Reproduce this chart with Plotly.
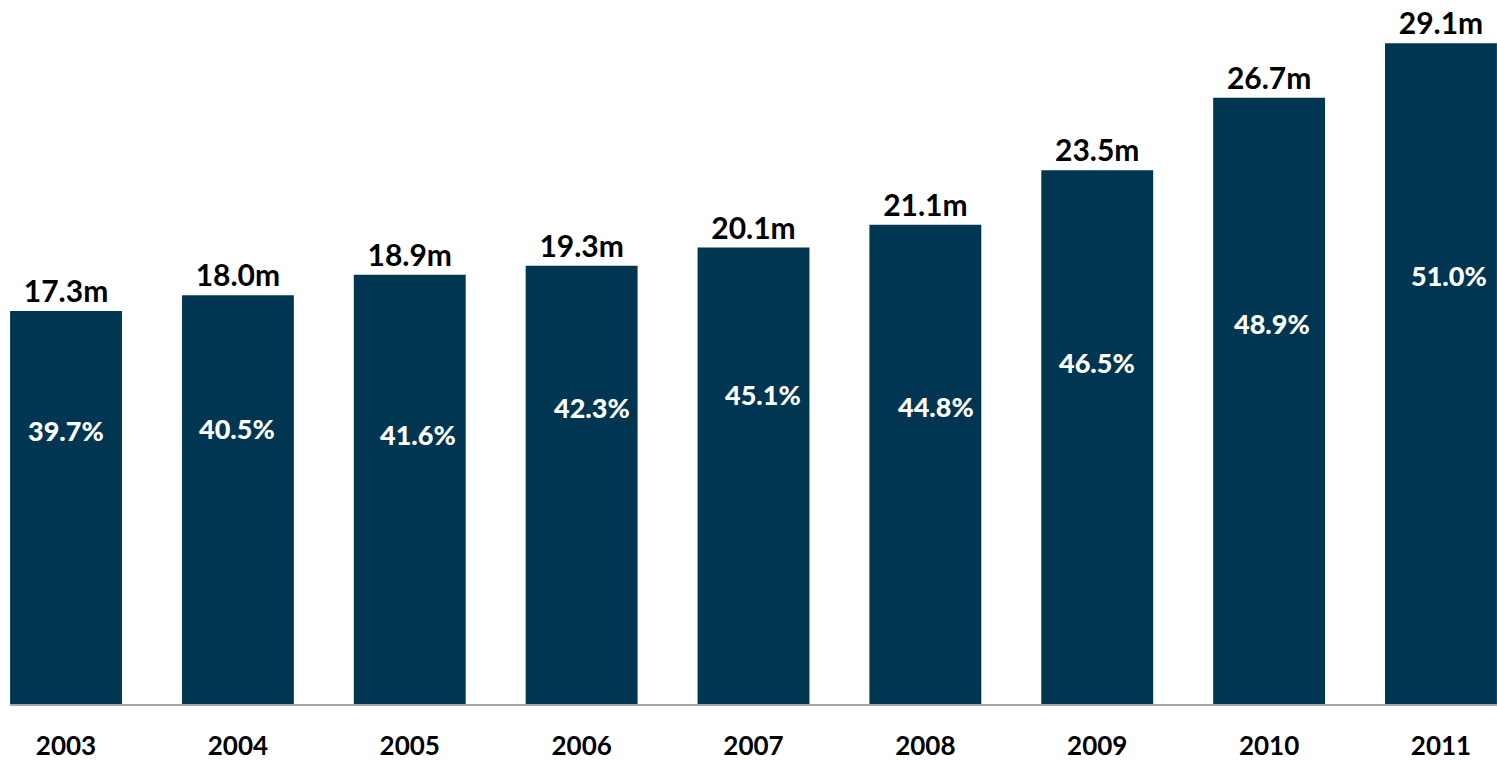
import plotly.graph_objects as go

# Yearly totals (millions) and share percentages
years = ["2003", "2004", "2005", "2006", "2007", "2008", "2009", "2010", "2011"]
totals_m = [17.3, 18.0, 18.9, 19.3, 20.1, 21.1, 23.5, 26.7, 29.1]
share_pct = [39.7, 40.5, 41.6, 42.3, 45.1, 44.8, 46.5, 48.9, 51.0]

# Placement of the share labels inside each bar (fraction of bar height, pixel nudge)
share_label_frac = [0.695, 0.673, 0.627, 0.676, 0.679, 0.620, 0.639, 0.628, 0.649]
share_label_dx = [0, -1, 8, 10, 9, 11, 0, 3, 8]

BAR_COLOR = "#003651"
FONT = "Lato"

fig = go.Figure()
fig.add_trace(go.Bar(
    x=years,
    y=totals_m,
    marker=dict(color=BAR_COLOR, line=dict(width=0)),
    text=[f"{v:.1f}m" for v in totals_m],
    textposition="outside",
    cliponaxis=False,
    textfont=dict(family=FONT, size=30, color="#000000", weight="bold"),
    hoverinfo="skip",
))

for i, (v, p, f, dx) in enumerate(zip(totals_m, share_pct, share_label_frac, share_label_dx)):
    fig.add_annotation(
        x=i, y=v * f, xref="x", yref="y",
        text=f"{p:.1f}%", showarrow=False,
        xshift=dx,
        font=dict(family=FONT, size=27, color="#ffffff", weight=900),
    )

fig.update_layout(
    width=1497, height=761,
    margin=dict(l=10, r=0, t=0, b=50),
    paper_bgcolor="#ffffff", plot_bgcolor="#ffffff",
    bargap=0.349,
    showlegend=False,
    xaxis=dict(
        type="category",
        range=[-0.326, 8.326],
        showline=True, linecolor="#a6a6a6", linewidth=2,
        showgrid=False, zeroline=False, ticks="",
        ticklabelstandoff=18,
        tickfont=dict(family=FONT, size=26, color="#000000", weight="bold"),
    ),
    yaxis=dict(
        range=[0, 31.0], visible=False, showgrid=False, zeroline=False,
    ),
)

fig.write_html("out.html")
